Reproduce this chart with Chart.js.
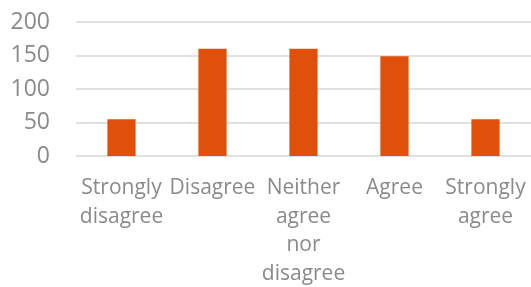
<!DOCTYPE html>
<html>
<head>
<meta charset="utf-8">
<script src="https://cdn.jsdelivr.net/npm/chart.js@4"></script>
<style>
  html, body { margin: 0; padding: 0; background: #fff; }
  #wrap { width: 531px; height: 287px; }
</style>
</head>
<body>
<div id="wrap"><canvas id="barChart"></canvas></div>
<script>
const categories = [
    ['Strongly', 'disagree'],
    'Disagree',
    ['Neither', 'agree', 'nor', 'disagree'],
    'Agree',
    ['Strongly', 'agree']
];
const responses = [55, 160, 160, 149, 55];
const yTicks = [0, 50, 100, 150, 200];

const textColor = '#8a8a8a';
const barColor = '#e0500a';
const gridColor = '#e1e1e1';

// horizontal grid lines, only across the plot area, under the bars
const gridLines = {
    id: 'gridLines',
    beforeDatasetsDraw(chart) {
        const { ctx, chartArea, scales } = chart;
        ctx.save();
        ctx.strokeStyle = gridColor;
        ctx.lineWidth = 2;
        yTicks.forEach(v => {
            const py = Math.round(scales.y.getPixelForValue(v));
            ctx.beginPath();
            ctx.moveTo(chartArea.left, py);
            ctx.lineTo(chartArea.right, py);
            ctx.stroke();
        });
        ctx.restore();
    }
};

const ctx = document.getElementById('barChart').getContext('2d');
const chart = new Chart(ctx, {
    type: 'bar',
    data: {
        labels: categories,
        datasets: [{ data: responses, backgroundColor: barColor, barPercentage: 0.62, categoryPercentage: 0.5 }]
    },
    options: {
        responsive: true,
        maintainAspectRatio: false,
        animation: false,
        layout: { padding: { top: 22, right: 0, left: 0, bottom: 0 } },
        plugins: { legend: { display: false }, tooltip: { enabled: false } },
        scales: {
            x: {
                // transparent tick marks push the labels down without adding side padding
                grid: { display: true, drawOnChartArea: false, drawTicks: true, tickLength: 18, tickColor: 'rgba(0,0,0,0)', color: 'rgba(0,0,0,0)' },
                border: { display: false },
                ticks: {
                    color: textColor,
                    font: { family: 'Open Sans', size: 21, lineHeight: 1.36 },
                    padding: 0,
                    maxRotation: 0,
                    autoSkip: false
                },
                afterFit: s => { s.height = 131; s.paddingLeft = 0; s.paddingRight = 0; }
            },
            y: {
                min: 0,
                max: 200,
                afterBuildTicks: s => { s.ticks = yTicks.map(v => ({ value: v })); },
                grid: { display: false },
                border: { display: false },
                ticks: {
                    color: textColor,
                    font: { family: 'Open Sans', size: 23 },
                    padding: 18
                },
                afterFit: s => { s.width = 76; s.paddingTop = 0; s.paddingBottom = 0; }
            }
        }
    },
    plugins: [gridLines]
});
</script>
</body>
</html>
